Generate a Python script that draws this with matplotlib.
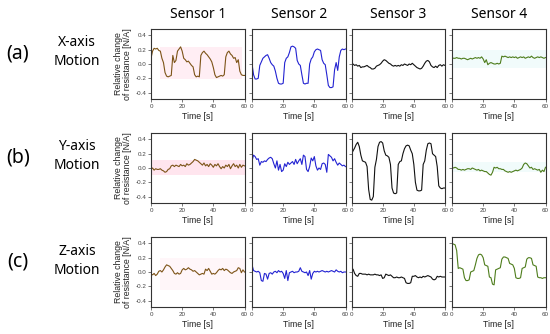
import matplotlib
matplotlib.use("Agg")
import matplotlib.pyplot as plt
import numpy as np

# time axis (s)
t = np.arange(0, 61)

# row (a) X-axis motion
xa_s1 = [0.08, 0.18, 0.22, 0.21, 0.22, 0.19, 0.18, 0.08, 0.02, -0.12, -0.17, -0.18, -0.17, -0.16, 0.12, 0.02,
         0.05, 0.18, 0.21, 0.24, 0.18, 0.08, 0.06, 0.03, 0.04, 0.01, -0.02, -0.04, -0.15, -0.18, -0.17, -0.18,
         0.12, 0.16, 0.18, 0.15, 0.13, 0.10, 0.07, 0.03, -0.05, -0.15, -0.19, -0.18, -0.17, -0.16, -0.17, -0.15,
         0.10, 0.16, 0.18, 0.14, 0.12, 0.08, 0.09, 0.02, 0.06, -0.10, -0.15, -0.16, -0.16]
xa_s2 = [0.00, -0.15, -0.21, -0.21, -0.20, -0.02, 0.03, 0.08, 0.10, 0.12, 0.13, 0.08, 0.02, -0.01, -0.03, -0.10,
         -0.20, -0.27, -0.28, -0.28, -0.27, 0.02, 0.08, 0.10, 0.16, 0.24, 0.25, 0.24, 0.22, 0.05, 0.00, -0.02,
         -0.15, -0.27, -0.28, -0.27, -0.27, 0.00, 0.07, 0.10, 0.17, 0.20, 0.21, 0.20, 0.19, 0.06, 0.01, -0.01,
         -0.15, -0.30, -0.33, -0.33, -0.32, -0.08, 0.02, -0.09, 0.10, 0.19, 0.21, 0.20, 0.21]
xa_s3 = [-0.01, 0.00, -0.02, -0.01, -0.03, -0.02, -0.05, -0.04, -0.04, -0.03, -0.02, -0.04, -0.05, -0.07, -0.07,
         -0.06, -0.03, -0.02, -0.01, 0.01, 0.04, 0.06, 0.05, 0.03, 0.01, 0.00, -0.02, -0.03, -0.02, -0.03, -0.02,
         -0.03, -0.01, -0.02, 0.00, -0.01, -0.02, 0.00, -0.01, 0.01, -0.01, -0.03, -0.05, -0.06, -0.07, -0.06,
         -0.03, 0.01, 0.04, 0.05, 0.03, -0.02, -0.04, -0.05, -0.03, -0.05, -0.02, -0.01, -0.03, -0.01, -0.02]
xa_s4 = [0.09, 0.08, 0.08, 0.09, 0.08, 0.08, 0.07, 0.08, 0.08, 0.07, 0.06, 0.07, 0.08, 0.07, 0.08, 0.09, 0.08,
         0.09, 0.08, 0.10, 0.07, 0.02, 0.06, -0.01, 0.01, 0.02, 0.01, 0.00, 0.00, 0.01, 0.00, 0.01, 0.11, 0.10,
         0.11, 0.10, 0.09, 0.10, 0.09, 0.10, 0.09, 0.10, 0.08, 0.09, 0.10, 0.09, 0.10, 0.08, 0.09, 0.10, 0.09,
         0.11, 0.09, 0.08, 0.09, 0.10, 0.09, 0.10, 0.09, 0.08, 0.09]

# row (b) Y-axis motion
yb_s1 = [-0.02, 0.00, -0.03, -0.01, -0.02, -0.02, -0.01, -0.03, -0.04, -0.06, -0.05, -0.02, -0.01, 0.03, 0.04,
         0.02, 0.04, 0.03, 0.02, 0.05, 0.03, 0.04, 0.02, 0.06, 0.04, 0.05, 0.07, 0.09, 0.12, 0.11, 0.10, 0.08,
         0.06, 0.04, 0.07, 0.03, 0.05, 0.02, 0.06, 0.04, 0.01, 0.05, 0.03, 0.06, 0.02, -0.01, 0.02, 0.00, 0.04,
         0.02, 0.05, -0.01, 0.03, 0.06, 0.02, 0.04, 0.00, 0.05, 0.01, 0.04, 0.03]
yb_s2 = [0.10, 0.18, 0.16, 0.12, 0.13, 0.04, 0.09, 0.08, 0.10, 0.09, 0.12, 0.14, 0.15, 0.13, 0.06, 0.00, 0.10,
         -0.03, 0.05, -0.05, -0.03, 0.06, 0.02, 0.08, 0.05, 0.07, 0.09, 0.05, 0.12, 0.06, 0.10, 0.13, 0.05, 0.18,
         0.16, -0.02, -0.05, 0.02, 0.14, 0.10, 0.16, 0.03, -0.03, 0.00, -0.02, 0.06, 0.07, 0.05, -0.06, 0.19,
         0.17, 0.15, 0.10, 0.13, 0.08, 0.04, 0.07, 0.05, 0.03, 0.04, 0.02]
yb_s3 = [0.20, 0.24, 0.28, 0.33, 0.36, 0.30, 0.18, 0.10, 0.09, 0.08, 0.02, -0.30, -0.44, -0.45, -0.40, 0.01,
         0.12, 0.30, 0.36, 0.37, 0.35, 0.24, 0.18, 0.17, 0.15, 0.05, -0.28, -0.35, -0.36, -0.35, 0.05, 0.09,
         0.10, 0.20, 0.27, 0.31, 0.32, 0.31, 0.25, 0.20, 0.05, -0.20, -0.31, -0.32, -0.32, -0.31, 0.05, 0.10,
         0.25, 0.34, 0.35, 0.34, 0.20, 0.18, 0.16, 0.02, -0.25, -0.28, -0.29, -0.28, -0.28]
yb_s4 = [0.01, 0.00, 0.01, 0.00, -0.02, -0.02, -0.03, -0.02, -0.03, -0.02, -0.01, -0.01, -0.02, 0.00, -0.01,
         -0.02, -0.03, -0.02, -0.04, -0.03, -0.04, -0.05, -0.05, -0.07, -0.09, -0.10, -0.06, 0.01, 0.00, 0.01,
         -0.01, -0.01, -0.02, -0.02, -0.04, -0.05, -0.06, -0.05, -0.06, -0.05, -0.04, -0.03, -0.04, -0.03, -0.02,
         0.00, 0.05, 0.07, 0.06, 0.03, 0.00, 0.01, -0.02, -0.01, -0.02, -0.03, -0.02, -0.06, -0.03, -0.05, 0.01]

# row (c) Z-axis motion
zc_s1 = [-0.03, -0.04, -0.02, -0.05, -0.03, 0.01, 0.02, 0.00, 0.03, 0.07, 0.10, 0.09, 0.08, 0.05, 0.02, -0.02,
         -0.03, -0.01, -0.03, -0.02, 0.03, 0.05, 0.03, 0.04, 0.06, 0.04, 0.03, 0.01, 0.02, 0.00, -0.02, -0.04,
         -0.03, -0.02, -0.03, 0.04, 0.02, 0.05, 0.01, -0.03, -0.02, -0.03, -0.01, 0.02, 0.04, 0.03, 0.05, 0.02,
         0.04, 0.03, 0.01, -0.01, -0.02, 0.00, 0.01, 0.02, 0.06, 0.05, -0.01, 0.03, 0.00]
zc_s2 = [0.10, 0.02, 0.01, 0.00, 0.01, -0.01, -0.12, -0.13, -0.02, -0.03, -0.10, -0.02, -0.01, -0.03, 0.00,
         0.01, -0.01, 0.02, 0.00, 0.01, -0.02, -0.09, 0.02, -0.12, -0.01, 0.00, 0.01, -0.01, 0.00, 0.00, 0.01,
         0.06, 0.01, 0.00, -0.01, 0.00, -0.05, 0.02, -0.10, -0.02, 0.01, 0.00, 0.01, 0.00, 0.01, 0.02, 0.01,
         0.00, 0.01, 0.00, 0.01, 0.02, 0.01, 0.00, 0.03, 0.01, 0.00, 0.01, -0.01, 0.00, 0.00]
zc_s3 = [0.01, 0.04, -0.02, -0.05, -0.06, -0.02, -0.02, -0.03, -0.03, -0.03, -0.04, -0.03, -0.04, -0.04, -0.04,
         -0.03, -0.04, -0.04, -0.05, -0.04, -0.09, -0.08, -0.03, -0.04, -0.05, -0.04, -0.06, -0.08, -0.08, -0.07,
         -0.08, -0.08, -0.07, -0.08, -0.09, -0.15, -0.16, -0.16, -0.15, -0.06, -0.06, -0.05, -0.07, -0.08, -0.07,
         -0.08, -0.06, -0.07, -0.06, -0.05, -0.06, -0.07, -0.10, -0.11, -0.10, -0.06, -0.07, -0.06, -0.07, -0.07,
         -0.07]
zc_s4 = [0.40, 0.39, 0.38, 0.30, 0.05, 0.06, 0.05, 0.04, -0.08, -0.12, -0.12, -0.11, 0.00, 0.01, 0.02, 0.10,
         0.19, 0.24, 0.25, 0.24, 0.20, 0.10, 0.09, 0.08, -0.07, -0.08, -0.17, -0.18, 0.03, 0.04, 0.05, 0.06, 0.18,
         0.21, 0.21, 0.20, 0.19, 0.12, 0.11, 0.10, 0.05, -0.08, -0.09, -0.09, -0.08, 0.05, 0.06, 0.07, 0.18, 0.20,
         0.20, 0.19, 0.10, 0.09, 0.08, -0.07, -0.08, -0.08, -0.09, -0.08, -0.08]

rows = [[xa_s1, xa_s2, xa_s3, xa_s4],
        [yb_s1, yb_s2, yb_s3, yb_s4],
        [zc_s1, zc_s2, zc_s3, zc_s4]]
sensor_names = ["Sensor 1", "Sensor 2", "Sensor 3", "Sensor 4"]
row_tags = ["(a)", "(b)", "(c)"]
row_names = ["X-axis\nMotion", "Y-axis\nMotion", "Z-axis\nMotion"]
colors = ["#7d5418", "#2323d2", "#111111", "#4e7d1c"]

W, H = 550.0, 334.0
fig = plt.figure(figsize=(5.5, 3.34), dpi=100)
col_left = [151, 252, 351.5, 452]
row_top = [29, 133, 237]
aw, ah = 93.5, 70

tick_font = "Liberation Sans"
for r in range(3):
    for c in range(4):
        ax = fig.add_axes([col_left[c] / W, 1 - (row_top[r] + ah) / H, aw / W, ah / H])
        if c == 0:
            # faint pink overlays seen on the sensor 1 panels
            if r == 0:
                ax.axhspan(-0.21, 0.24, xmin=0.1, xmax=0.97, color="#ffe3ee", alpha=0.6, lw=0)
            elif r == 1:
                ax.axhspan(-0.1, 0.11, color="#ffdbe8", alpha=0.7, lw=0)
            else:
                ax.axhspan(-0.25, 0.2, xmin=0.1, xmax=1.0, color="#fff0f5", alpha=0.6, lw=0)
        if c == 3 and r < 2:
            ax.axhspan(-0.05, 0.2 if r == 0 else 0.08, color="#eefbfb", alpha=0.8, lw=0)
        ax.plot(t, rows[r][c], color=colors[c], lw=0.8)
        ax.set_xlim(0, 60)
        ax.set_ylim(-0.49, 0.49)
        ax.set_xticks([0, 20, 40, 60])
        ax.set_yticks([-0.4, -0.2, 0.0, 0.2, 0.4])
        ax.tick_params(length=2, width=0.5, pad=1.5, labelsize=4.5, direction="out", colors="#444444")
        for lab in ax.get_xticklabels() + ax.get_yticklabels():
            lab.set_family(tick_font)
        if c == 0:
            ax.set_yticklabels(["-0.4", "-0.2", "0.0", "0.2", "0.4"])
            ax.set_ylabel("Relative change\nof resistance [N/A]", fontsize=6.3,
                          family=tick_font, labelpad=2, linespacing=1.0, color="#222222")
        else:
            ax.set_yticklabels([])
        ax.set_xlabel("Time [s]", fontsize=6.3, family=tick_font, labelpad=2, color="#222222")
        for s in ax.spines.values():
            s.set_linewidth(0.8)
            s.set_color("#333333")

for c in range(4):
    fig.text((col_left[c] + aw / 2) / W, 1 - 14 / H, sensor_names[c], ha="center", va="center",
             fontsize=10, family="Noto Sans")

tag_y = [53, 157, 262]
for r in range(3):
    fig.text(18 / W, 1 - tag_y[r] / H, row_tags[r], ha="center", va="center", fontsize=14, family="Noto Sans")
    fig.text(77 / W, 1 - (tag_y[r] - 1) / H, row_names[r], ha="center", va="center", fontsize=10,
             family="Noto Sans", linespacing=1.3)

fig.savefig("out.png", dpi=100)
